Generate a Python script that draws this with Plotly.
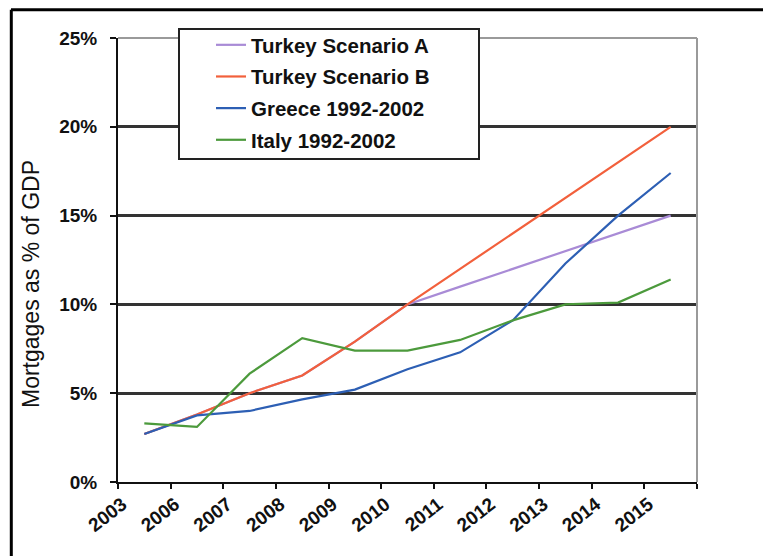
import plotly.graph_objects as go

# ---- data ----
years = ["2003", "2006", "2007", "2008", "2009", "2010", "2011", "2012", "2013", "2014", "2015"]
turkey_a = [2.7, 3.8, 5.0, 6.0, 7.9, 10.0, 11.0, 12.0, 13.0, 14.0, 15.0]
turkey_b = [2.7, 3.8, 5.0, 6.0, 7.9, 10.0, 12.0, 14.0, 16.0, 18.0, 20.0]
greece = [2.7, 3.75, 4.0, 4.65, 5.2, 6.35, 7.3, 9.1, 12.3, 15.0, 17.4]
italy = [3.3, 3.1, 6.1, 8.1, 7.4, 7.4, 8.0, 9.1, 10.0, 10.1, 11.4]
y_ticks = [0, 5, 10, 15, 20, 25]
y_tick_labels = ["0%", "5%", "10%", "15%", "20%", "25%"]
grid_vals = [5, 10, 15, 20]

series = [
    ("Turkey Scenario A", turkey_a, "#a98bd6"),
    ("Turkey Scenario B", turkey_b, "#f2603c"),
    ("Greece 1992-2002", greece, "#2d5fb4"),
    ("Italy 1992-2002", italy, "#4c9a3c"),
]

W, H = 763, 556
ML, MR, MT, MB = 118, 66, 38, 74
PW, PH = W - ML - MR, H - MT - MB


def px(xp):
    return (xp - ML) / PW


def py(yp):
    return (H - MB - yp) / PH


FONT = "Liberation Sans, Arial, sans-serif"

fig = go.Figure()
for name, vals, col in series:
    fig.add_trace(go.Scatter(
        x=years, y=vals, name=name, mode="lines",
        line=dict(color=col, width=2.2),
        legendgroup=name,
    ))

# invisible trace on overlay axis that carries the dark gridlines
fig.add_trace(go.Scatter(x=years, y=[None] * len(years), yaxis="y2",
                         showlegend=False, hoverinfo="skip"))

fig.update_layout(
    width=W, height=H,
    margin=dict(l=ML, r=MR, t=MT, b=MB, pad=0),
    paper_bgcolor="white", plot_bgcolor="white",
    showlegend=True,
    legend=dict(
        x=px(211), y=py(25), xanchor="left", yanchor="top",
        bgcolor="rgba(0,0,0,0)", borderwidth=0,
        font=dict(family=FONT, size=20.5, color="#111", weight=700),
        tracegroupgap=2,
    ),
    xaxis=dict(
        type="category", range=[-0.5, len(years) - 0.5],
        tickson="boundaries", ticks="outside", ticklen=5, tickwidth=2,
        tickcolor="#111", showline=True, linecolor="#111", linewidth=2,
        showgrid=False, zeroline=False,
        tickangle=-38, ticklabelshift=-22, ticklabelstandoff=2,
        tickfont=dict(family=FONT, size=19, color="#111", weight=700),
    ),
    yaxis=dict(
        range=[0, 25], tickvals=y_ticks, ticktext=y_tick_labels,
        ticks="outside", ticklen=6, tickwidth=2, tickcolor="#111",
        showline=True, linecolor="#111", linewidth=2,
        showgrid=False, zeroline=False, ticklabelstandoff=9,
        tickfont=dict(family=FONT, size=19, color="#111", weight=700),
    ),
    yaxis2=dict(
        overlaying="y", range=[0, 25], tickvals=grid_vals,
        showticklabels=False, showgrid=True, gridcolor="#333",
        gridwidth=2.5, zeroline=False, showline=False, ticks="",
    ),
    annotations=[dict(
        text="Mortgages as % of GDP", textangle=-90,
        xref="paper", yref="paper", x=px(31), y=py(284),
        xanchor="center", yanchor="middle", showarrow=False,
        font=dict(family=FONT, size=23, color="#111"),
    )],
    shapes=[
        # plot-area border (top, right) in grey
        dict(type="line", xref="paper", yref="paper", x0=0, x1=1, y0=1, y1=1,
             line=dict(color="#9a9a9a", width=2), layer="above"),
        dict(type="line", xref="paper", yref="paper", x0=1, x1=1, y0=0, y1=1,
             line=dict(color="#9a9a9a", width=2), layer="above"),
        # legend box
        dict(type="rect", xref="paper", yref="paper",
             x0=px(179), x1=px(479), y0=py(159), y1=py(29),
             line=dict(color="#222", width=2), fillcolor="white", layer="above"),
        # outer chart frame (top and left edges)
        dict(type="line", xref="paper", yref="paper", x0=px(11), x1=px(W + 5),
             y0=py(9.7), y1=py(9.7), line=dict(color="#000", width=3)),
        dict(type="line", xref="paper", yref="paper", x0=px(11.3), x1=px(11.3),
             y0=py(9.7), y1=py(H + 5), line=dict(color="#000", width=3)),
    ],
)

fig.write_html("out.html")
